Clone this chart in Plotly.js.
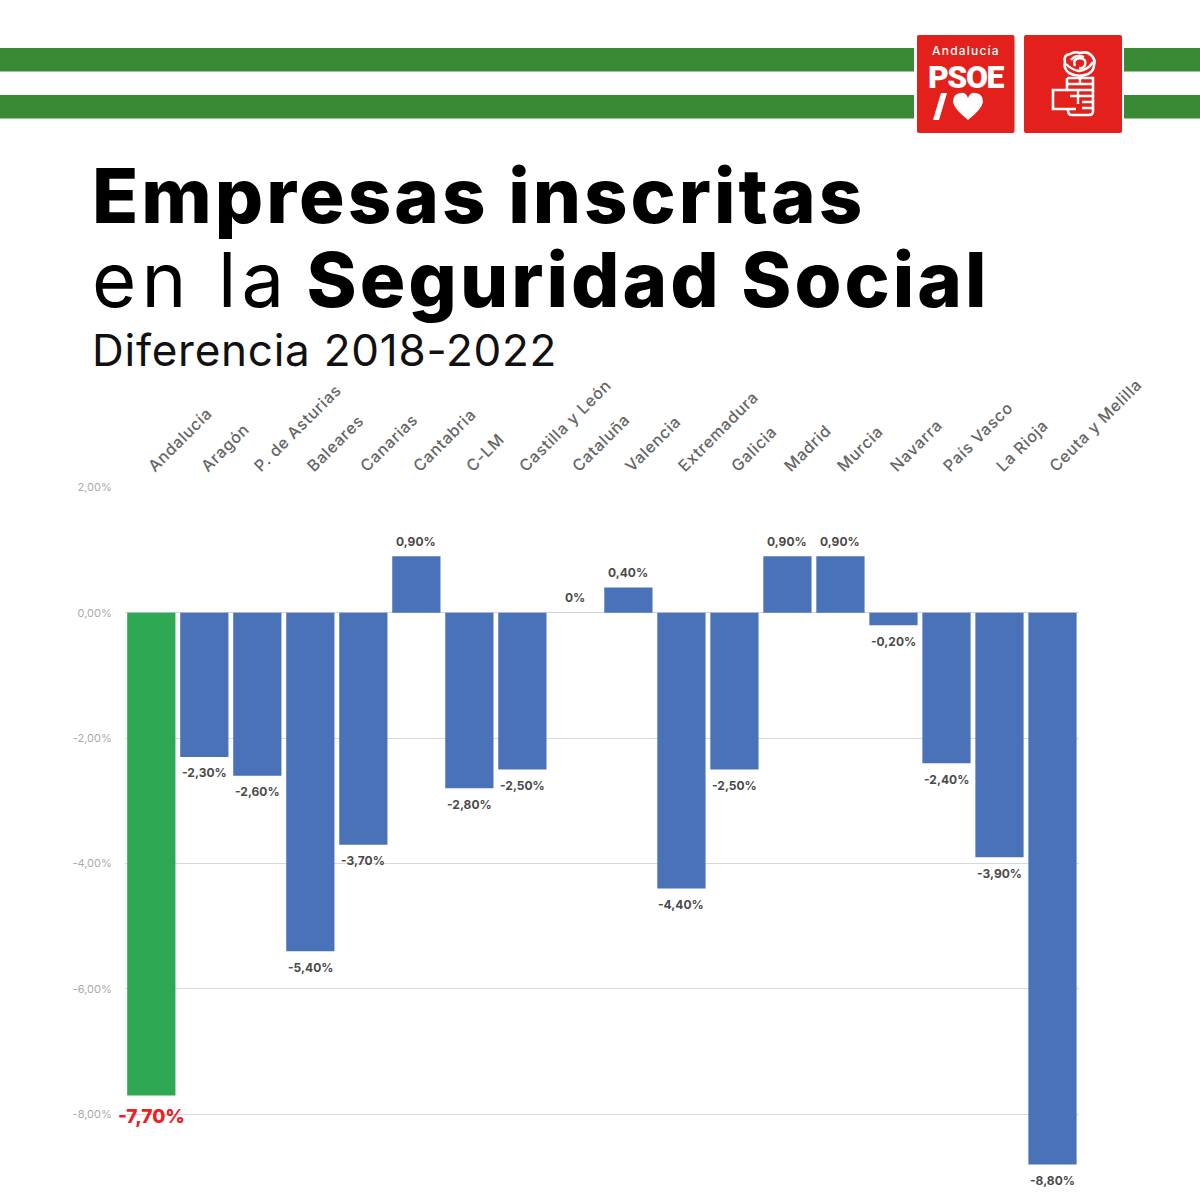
<!DOCTYPE html>
<html><head><meta charset="utf-8">
<script src="https://cdn.plot.ly/plotly-3.0.1.min.js"></script>
<style>html,body{margin:0;padding:0;background:#fff}#c{width:1200px;height:1200px}
.xtick text{letter-spacing:.7px}</style>
</head><body><div id="c"></div>
<script>
const categories=["Andalucía","Aragón","P. de Asturias","Baleares","Canarias","Cantabria","C-LM","Castilla y León","Cataluña","Valencia","Extremadura","Galicia","Madrid","Murcia","Navarra","País Vasco","La Rioja","Ceuta y Melilla"];
const values=[-7.7,-2.3,-2.6,-5.4,-3.7,0.9,-2.8,-2.5,0,0.4,-4.4,-2.5,0.9,0.9,-0.2,-2.4,-3.9,-8.8];
const tickVals=[2,0,-2,-4,-6,-8];
const tickText=["2,00%","0,00%","-2,00%","-4,00%","-6,00%","-8,00%"];
const F="Inter, 'Open Sans', sans-serif";
const BLUE="#4a72b8",GREEN="#2ea852",RED="#e3201b",STRIPE="#3a8a35";
const px=v=>v/1200, py=v=>1-v/1200;
function P(d){let k=0;return d.replace(/-?\d+(\.\d+)?/g,n=>{const v=+n;return ((k++%2===0)?px(v):py(v)).toFixed(5);});}
function path(d,fill,lw,layer){return {type:'path',xref:'paper',yref:'paper',path:P(d),fillcolor:fill||'rgba(0,0,0,0)',line:{width:lw||0,color:'#fff'},layer:layer||'above'};}
function rect(x0,y0,x1,y1,c,layer){return {type:'rect',xref:'paper',yref:'paper',x0:px(x0),x1:px(x1),y0:py(y1),y1:py(y0),fillcolor:c,line:{width:0},layer:layer||'below'};}
function rrect(x0,y0,x1,y1,c){const r=2;return path(`M${x0+r} ${y0} L${x1-r} ${y0} Q${x1} ${y0} ${x1} ${y0+r} L${x1} ${y1-r} Q${x1} ${y1} ${x1-r} ${y1} L${x0+r} ${y1} Q${x0} ${y1} ${x0} ${y1-r} L${x0} ${y0+r} Q${x0} ${y0} ${x0+r} ${y0} Z`,c,0,'below');}
function txt(t,x,y,size,color,extra){return Object.assign({text:t,xref:'paper',yref:'paper',x:px(x),y:py(y),xanchor:'left',yanchor:'middle',showarrow:false,font:{family:F,size:size,color:color}},extra||{});}
const W='#fff';
const shapes=[
 rect(0,48,1200,71.5,STRIPE),rect(0,95,1200,118.5,STRIPE),rect(914,30,1124,140,'#fff'),
 rrect(917,35,1014.5,133,RED),rrect(1024,35,1122,133,RED),
 /* slash and heart */
 path("M941 93 L947 93 L939 120 L933 120 Z",W),
 path("M968 120 Q954 109 953 102 Q953 94 960 93 Q966 92 968 98 Q970 92 976 93 Q983 94 983 102 Q982 109 968 120 Z",W),
 /* rose */
 path("M1069 73 Q1063 68 1065 62 Q1063 55 1070 54 Q1075 51 1080 53 Q1087 51 1091 55 Q1096 60 1094 65 Q1094 71 1088 74 Q1078 78 1069 73 Z",null,2.6),
 path("M1071 60 Q1076 54 1084 57",null,2.4),
 path("M1075 66 Q1072 59 1080 58 Q1087 59 1085 65 Q1083 69 1079 68",null,2.4),
 path("M1066 64 Q1072 70 1079 71 Q1088 70 1093 62",null,2.4),
 /* fist */
 path("M1067 78 L1093 78 L1093 111 Q1093 115 1089 115 L1072 115 Q1068 115 1068 110",null,2.6),
 path("M1067 78 L1067 90 L1053 90 L1053 109 L1076 109",null,2.6),
 path("M1067 84 L1093 84 M1080 78 L1080 84 M1067 90 L1093 90 M1078 90 L1078 104 M1078 96 L1093 96 M1082 102 L1093 102 M1082 108 L1093 108 M1070 96 L1078 96",null,2.4)
];
const B=s=>`<span style="font-weight:800;letter-spacing:3px">${s}</span>`;
const annotations=[
 txt(B("Empresas inscritas"),90,195,76,"#000"),
 txt(`<span style="letter-spacing:5.1px">en la</span><span style="letter-spacing:-4px"> </span>`+B("Seguridad Social"),90,279,76,"#000"),
 txt(`<span style="letter-spacing:.75px">Diferencia 2018-2022</span>`,90,350,44,"#111"),
 txt(`<span style="letter-spacing:1.2px;font-weight:500">Andalucía</span>`,966,51,12,"#fff",{xanchor:'center'}),
 {text:`<span style="font-weight:900;letter-spacing:-1.5px">PSOE</span>`,xref:'paper',yref:'paper',x:px(966),y:py(77.5),xanchor:'center',yanchor:'middle',showarrow:false,font:{family:"Roboto, Inter, sans-serif",size:32,color:"#fff"}}
];
categories.forEach((c,i)=>{
 const v=values[i];
 const label=v===0?"0%":v.toFixed(2).replace('.',',')+"%";
 const first=i===0;
 annotations.push({x:c,y:v,xref:'x',yref:'y',text:`<span style="font-weight:${first?800:700}">${label}</span>`,showarrow:false,xanchor:'center',yanchor:'middle',
  yshift:v===0?15:(v>0?15:(first?-21:-16)),
  font:{family:F,size:first?19:12,color:first?"#ea2024":"#4a4a4a"}});
});
const trace={type:'bar',x:categories,y:values,marker:{color:values.map((v,i)=>i===0?GREEN:BLUE)},width:0.91,hoverinfo:'x+y',cliponaxis:false};
Plotly.newPlot('c',[trace],{
 width:1200,height:1200,margin:{l:0,r:0,t:0,b:0},paper_bgcolor:'#fff',plot_bgcolor:'#fff',showlegend:false,
 xaxis:{domain:[124.8/1200,1079/1200],range:[-0.5,17.5],side:'top',anchor:'y',type:'category',tickangle:-45,ticks:'',showgrid:false,zeroline:false,showline:false,
  ticklabelstandoff:8,ticklabelshift:-2,
  tickfont:{family:F,size:16,color:"#666",weight:500},automargin:false},
 yaxis:{domain:[0,(1200-487.3)/1200],range:[-9.367,2],tickvals:tickVals,ticktext:tickText,ticks:'',showline:false,gridcolor:'#d9d9d9',gridwidth:1,zeroline:true,zerolinecolor:'#c8d2e0',zerolinewidth:1,
  ticklabelstandoff:12,
  tickfont:{family:F,size:11,color:"#aaa"},automargin:false},
 shapes,annotations
},{displayModeBar:false,staticPlot:true});
</script></body></html>
